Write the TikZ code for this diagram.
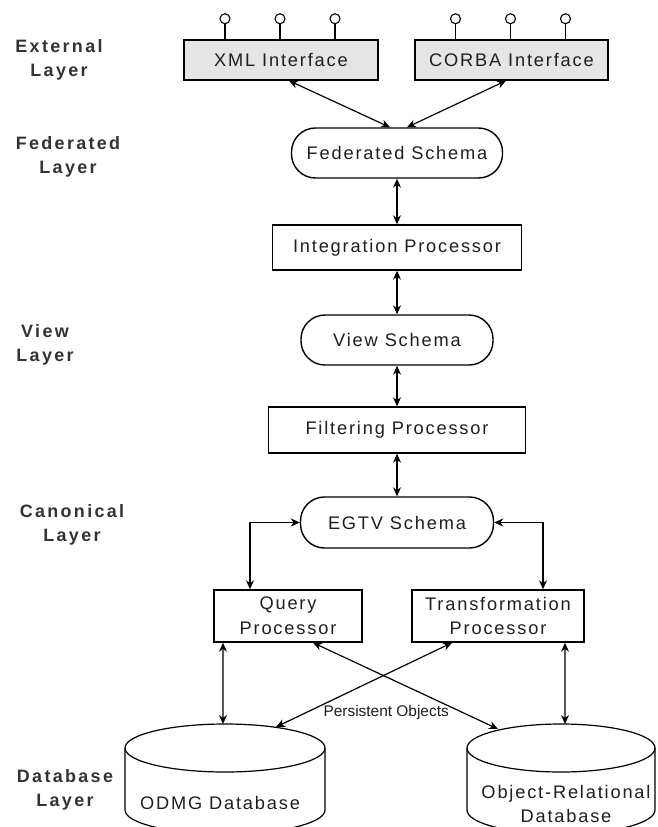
\documentclass[tikz,border=0pt]{standalone}
\usepackage{fontspec}
\setmainfont{Liberation Sans}
\newfontfamily\boxfont[LetterSpace=10]{Liberation Sans}
\newfontfamily\labfont[LetterSpace=13]{Liberation Sans}
\usetikzlibrary{arrows.meta,calc}

\begin{document}
\begin{tikzpicture}[x=1bp, y=-1bp,
  box/.style={draw=black, line width=1.4bp, rectangle, inner sep=0pt, align=center,
    font=\boxfont\fontsize{18.3}{25}\selectfont, text=black!88},
  iface/.style={box, fill=black!10},
  schema/.style={box, rounded corners=24bp},
  lay/.style={font=\labfont\bfseries\fontsize{18}{24}\selectfont, align=center, text=black!80},
  link/.style={line width=1.2bp, {Stealth[length=9bp,width=8bp]}-{Stealth[length=9bp,width=8bp]}},
  lolly/.style={circle, draw, line width=1.1bp, minimum size=10bp, inner sep=0pt, fill=white},
  cyl/.style={draw=black, line width=1.2bp},
  tag/.style={font=\fontsize{15.5}{18}\selectfont, text=black!88}]

\useasboundingbox (0,0) rectangle (658,827);
\clip (0,0) rectangle (658,827);
\fill[white] (0,0) rectangle (658,827);

% layer labels
\node[lay] (lext) at (59,60)  {External\\Layer};
\node[lay] (lfed) at (68,157) {Federated\\Layer};
\node[lay] (lview) at (45,345) {View\\Layer};
\node[lay] (lcan) at (72,525) {Canonical\\Layer};
\node[lay] (ldb) at (65,790) {Database\\Layer};

% external interfaces with their ports
\node[iface, minimum width=194bp, minimum height=40bp] (xml) at (281,60) {XML Interface};
\node[iface, minimum width=193bp, minimum height=40bp] (corba) at (511.5,60) {CORBA Interface};
\foreach \d in {-56,-1,54} {
  \draw[line width=1.1bp] ([xshift=\d bp]xml.north) -- ++(0,-15) node[lolly, anchor=south] {};
  \draw[line width=1.1bp] ([xshift=\d bp]corba.north) -- ++(0,-15) node[lolly, anchor=south] {};
}

% processing column
\node[schema, minimum width=211bp, minimum height=50bp] (fed) at (397,153) {Federated Schema};
\node[box, minimum width=249bp, minimum height=45bp] (integ) at (397,247.5) {Integration Processor};
\node[schema, minimum width=192bp, minimum height=50bp] (view) at (397,340) {View Schema};
\node[box, minimum width=257bp, minimum height=46bp] (filt) at (397,430) {Filtering Processor};
\node[schema, minimum width=193bp, minimum height=51bp] (egtv) at (397,522.5) {EGTV Schema};
\node[box, minimum width=148bp, minimum height=52bp] (query) at (288,616) {Query\\Processor};
\node[box, minimum width=172bp, minimum height=52bp] (trans) at (498,616) {Transformation\\Processor};

% databases
\draw[cyl] (225,748) ellipse [x radius=100bp, y radius=24bp];
\draw[cyl] (125,748) -- (125,810) arc[start angle=180, end angle=360, x radius=100bp, y radius=24bp] -- (325,748);
\node[box, draw=none] (odmg) at (220,803) {ODMG Database};
\draw[cyl] (561,748) ellipse [x radius=94bp, y radius=24bp];
\draw[cyl] (467,748) -- (467,810) arc[start angle=180, end angle=360, x radius=94bp, y radius=24bp] -- (655,748);
\node[box, draw=none] (orel) at (566,804) {Object-Relational\\Database};

\coordinate (odmgA) at (223,724);
\coordinate (odmgB) at (276,727);
\coordinate (orelA) at (565,724);
\coordinate (orelB) at (498,729);

% connectors
\draw[link] ([xshift=8bp]xml.south) -- ([xshift=-7bp]fed.north);
\draw[link] ([xshift=-5.5bp]corba.south) -- ([xshift=10bp]fed.north);
\draw[link] (fed.south) -- (integ.north);
\draw[link] (integ.south) -- (view.north);
\draw[link] (view.south) -- (filt.north);
\draw[link] (filt.south) -- (egtv.north);
\draw[link] (egtv.west) -| ([xshift=-38bp]query.north);
\draw[link] (egtv.east) -| ([xshift=45bp]trans.north);
\draw[link] ([xshift=-65bp]query.south) -- (odmgA);
\draw[link] ([xshift=67bp]trans.south) -- (orelA);
\draw[link] ([xshift=25bp]query.south) -- (orelB);
\draw[link] ([xshift=-46bp]trans.south) -- (odmgB);

\node[tag, anchor=west] (po) at (320,712) {Persistent Objects};
\end{tikzpicture}
\end{document}
